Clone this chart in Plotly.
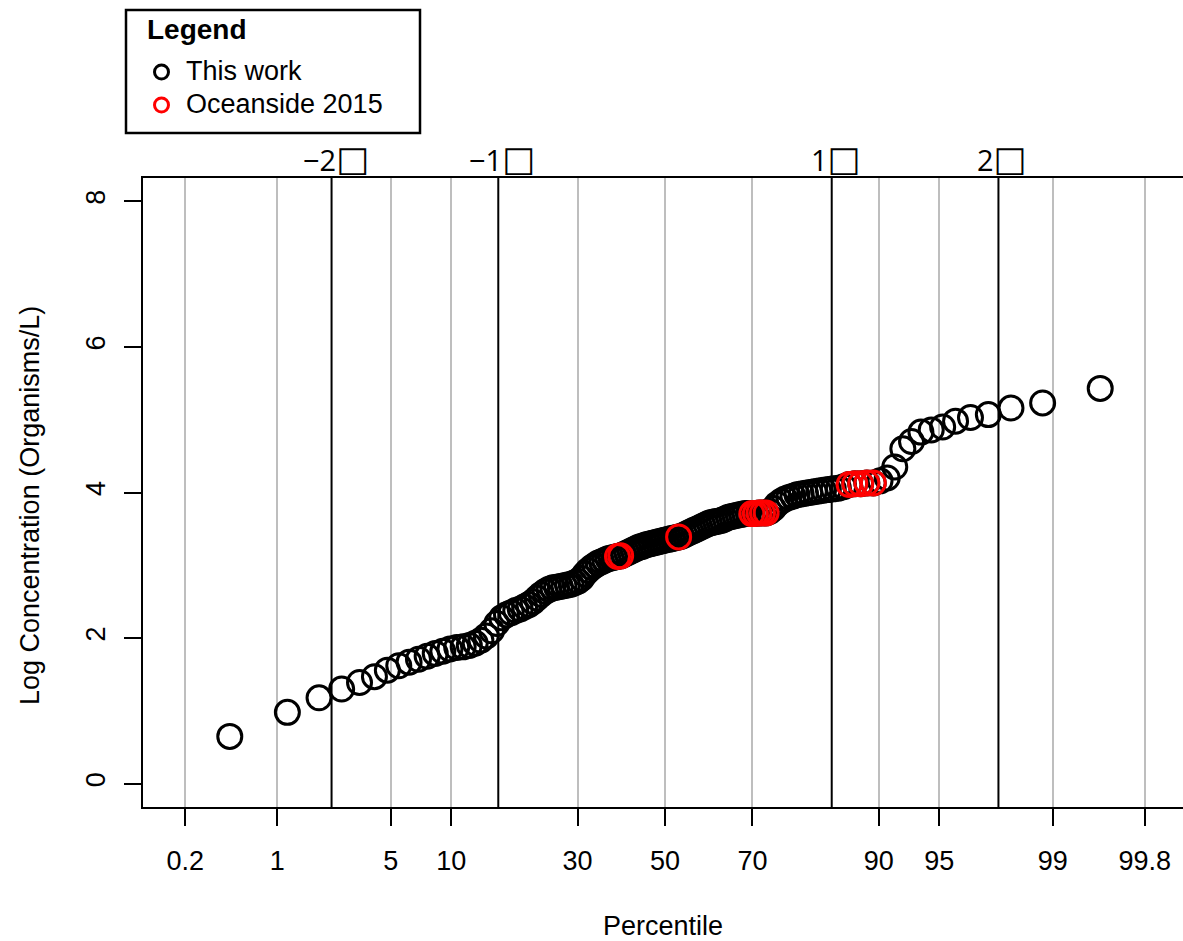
from statistics import NormalDist
import plotly.graph_objects as go

# Sorted log10 concentrations (organisms/L), lowest to highest
log_conc = [
    0.65, 0.98, 1.18, 1.30, 1.39, 1.47, 1.56, 1.62, 1.67, 1.71,
    1.75, 1.79, 1.82, 1.85, 1.87, 1.88, 1.90, 1.93, 1.97, 2.03,
    2.10, 2.20, 2.28, 2.32, 2.35, 2.38, 2.40, 2.43, 2.46, 2.50,
    2.55, 2.60, 2.64, 2.67, 2.69, 2.70, 2.71, 2.72, 2.73, 2.74,
    2.76, 2.78, 2.82, 2.88, 2.93, 2.97, 3.00, 3.03, 3.05, 3.07,
    3.09, 3.10, 3.11, 3.12, 3.13, 3.15, 3.17, 3.19, 3.21, 3.23,
    3.25, 3.26, 3.28, 3.29, 3.30, 3.31, 3.32, 3.33, 3.34, 3.35,
    3.36, 3.37, 3.38, 3.39, 3.40, 3.42, 3.44, 3.46, 3.48, 3.50,
    3.52, 3.54, 3.56, 3.58, 3.59, 3.60, 3.61, 3.62, 3.64, 3.66,
    3.67, 3.68, 3.69, 3.70, 3.71, 3.71, 3.71, 3.71, 3.72, 3.72,
    3.72, 3.74, 3.78, 3.84, 3.88, 3.91, 3.93, 3.95, 3.97, 3.98,
    3.99, 4.00, 4.01, 4.02, 4.03, 4.04, 4.05, 4.06, 4.08, 4.11,
    4.12, 4.12, 4.13, 4.13, 4.16, 4.20, 4.35, 4.60, 4.70, 4.83,
    4.86, 4.90, 4.98, 5.03, 5.07, 5.16, 5.23, 5.43,
]

# Ranks (1-based) of the samples from the Oceanside 2015 campaign
oceanside_ranks = [54, 55, 74, 97, 98, 99, 100, 101, 120, 121, 122, 123, 124]

# Percentile axis and sigma reference lines
percentiles = [0.2, 1, 5, 10, 30, 50, 70, 90, 95, 99, 99.8]
percentile_labels = ["0.2", "1", "5", "10", "30", "50", "70", "90", "95", "99", "99.8"]
sigma_lines = [-2, -1, 0, 1, 2]
BOX = "<span style='font-size:35px'>\u25a1</span>"
sigma_labels = {-2: "\u22122" + BOX, -1: "\u22121" + BOX, 1: "1" + BOX, 2: "2" + BOX}

y_ticks = [0, 2, 4, 6, 8]

nd = NormalDist()
n = len(log_conc)
# Blom plotting positions on the normal-score scale
z_scores = [nd.inv_cdf((i - 0.375) / (n + 0.25)) for i in range(1, n + 1)]
ocean_z = [z_scores[r - 1] for r in oceanside_ranks]
ocean_y = [log_conc[r - 1] for r in oceanside_ranks]
tick_z = [nd.inv_cdf(p / 100.0) for p in percentiles]

W, H = 1183, 941
ML, MR, MT, MB = 143, 0, 178, 134
PW, PH = W - ML - MR, H - MT - MB


def px(x):
    return (x - ML) / PW


def py(y):
    return (H - MB - y) / PH


FONT = "Liberation Sans, Arial, Helvetica, sans-serif"

fig = go.Figure()
fig.add_trace(go.Scatter(
    x=z_scores, y=log_conc, mode="markers", name="This work",
    marker=dict(symbol="circle-open", size=24, color="black",
                line=dict(width=3, color="black")),
    showlegend=False, hoverinfo="skip",
))
fig.add_trace(go.Scatter(
    x=ocean_z, y=ocean_y, mode="markers", name="Oceanside 2015",
    marker=dict(symbol="circle-open", size=24, color="#FF0000",
                line=dict(width=3, color="#FF0000")),
    showlegend=False, hoverinfo="skip",
))

shapes = []
for s in sigma_lines:
    shapes.append(dict(type="line", xref="x", yref="paper", x0=s, x1=s, y0=0, y1=1,
                       line=dict(color="black", width=2), layer="between"))

# Legend box
shapes.append(dict(type="rect", xref="paper", yref="paper",
                   x0=px(126), x1=px(420), y0=py(133), y1=py(10),
                   line=dict(color="black", width=2.5), fillcolor="white"))
for yc, col in [(72, "black"), (105, "#FF0000")]:
    shapes.append(dict(type="circle", xref="paper", yref="paper",
                       xsizemode="pixel", ysizemode="pixel",
                       xanchor=px(161.5), yanchor=py(yc),
                       x0=-7, x1=7, y0=-7, y1=7,
                       line=dict(color=col, width=3)))

annotations = [
    dict(text="<b>Legend</b>", xref="paper", yref="paper", x=px(145), y=py(30),
         xanchor="left", yanchor="middle", showarrow=False,
         font=dict(family=FONT, size=28, color="black")),
    dict(text="This work", xref="paper", yref="paper", x=px(184), y=py(71),
         xanchor="left", yanchor="middle", showarrow=False,
         font=dict(family=FONT, size=27, color="black")),
    dict(text="Oceanside 2015", xref="paper", yref="paper", x=px(184), y=py(104),
         xanchor="left", yanchor="middle", showarrow=False,
         font=dict(family=FONT, size=27, color="black")),
    dict(text="Percentile", xref="paper", yref="paper", x=0.5, y=py(926),
         xanchor="center", yanchor="middle", showarrow=False,
         font=dict(family=FONT, size=27, color="black")),
    dict(text="Log Concentration (Organisms/L)", xref="paper", yref="paper",
         x=px(30), y=py(506), xanchor="center", yanchor="middle", textangle=-90,
         showarrow=False, font=dict(family=FONT, size=27, color="black")),
]
# Sigma labels above the plot
for s, lab in sigma_labels.items():
    annotations.append(dict(text=lab, xref="x", yref="paper", x=s, y=py(158),
                            xanchor="center", yanchor="middle", showarrow=False,
                            xshift=4,
                            font=dict(family="Open Sans, DejaVu Sans, sans-serif",
                                      size=29, color="black")))

fig.update_layout(
    width=W, height=H,
    margin=dict(l=ML, r=MR, t=MT, b=MB, pad=0),
    paper_bgcolor="white", plot_bgcolor="white",
    font=dict(family=FONT, size=27, color="black"),
    shapes=shapes, annotations=annotations,
    xaxis=dict(
        range=[-3.131, 3.107], tickmode="array", tickvals=tick_z, ticktext=percentile_labels,
        ticks="outside", ticklen=17, tickwidth=2, tickcolor="black",
        showgrid=True, gridcolor="#BEBEBE", gridwidth=1.5, zeroline=False,
        showline=True, linecolor="black", linewidth=2, mirror=True,
        ticklabelstandoff=12, tickfont=dict(size=27),
    ),
    yaxis=dict(
        range=[-0.32, 8.32], tickmode="array", tickvals=y_ticks,
        ticks="outside", ticklen=17, tickwidth=2, tickcolor="black",
        tickangle=-90, showgrid=False, zeroline=False,
        showline=True, linecolor="black", linewidth=2, mirror=False,
        ticklabelstandoff=8, tickfont=dict(size=27),
    ),
)

fig.write_html("out.html")
